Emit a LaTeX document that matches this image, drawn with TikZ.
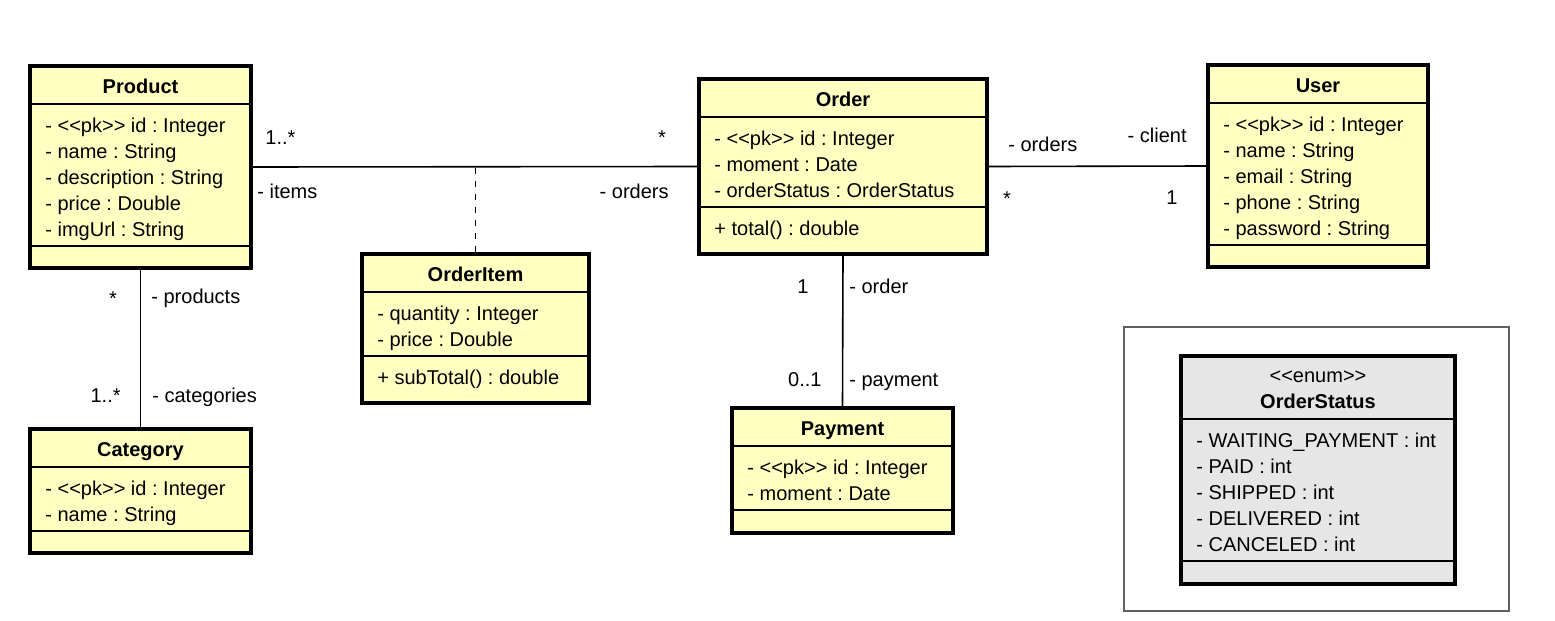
\documentclass[tikz,border=0pt]{standalone}
\usepackage{fontspec}
\newfontfamily\umlfont{Liberation Sans}
\usetikzlibrary{calc}
\definecolor{ClassClr}{RGB}{255,255,194}
\definecolor{EnumClr}{RGB}{230,230,230}
\definecolor{FrameClr}{RGB}{95,95,95}
\frenchspacing

% [title band]{name}{x}{y}{width}{height}{title}{attributes}{method}
\newcommand{\umlclass}[9][40]{%
  \node[umlbox, minimum width=#5*0.5pt, minimum height=#6*0.5pt] (#2) at (#3,#4) {};
  \node[umltitle] (#2-title) at ($(#2.north)+(0,#1-11)$) {#7};
  \draw[umlsep] ($(#2.north west)+(0,#1)$) -- ++(#5,0);
  \foreach \t [count=\i] in {#8}{%
    \node[umltext] (#2-attr\i) at ($(#2.north west)+(17,#1+2+26*\i)$) {\t};
    \xdef\umln{\i}}
  \draw[umlsep] ($(#2.north west)+(0,#1+12+26*\umln)$) -- ++(#5,0);
  \def\umlm{#9}%
  \ifx\umlm\empty\else
    \node[umltext] (#2-op) at ($(#2.north west)+(17,#1+40+26*\umln)$) {#9};
  \fi}

\begin{document}
\begin{tikzpicture}[x=0.5pt,y=-0.5pt,
  umlbox/.style={draw, line width=2pt, fill=ClassClr, inner sep=0, anchor=north west},
  umlsep/.style={line width=0.8pt},
  umltitle/.style={font=\umlfont\bfseries\fontsize{10}{12}\selectfont, anchor=base, inner sep=0},
  umltext/.style={font=\umlfont\fontsize{10}{12}\selectfont, anchor=base west, inner sep=0},
  umllabel/.style={font=\umlfont\fontsize{10}{12}\selectfont, inner sep=0},
  assoc/.style={line width=0.8pt}]
\useasboundingbox (0,0) rectangle (1555,621);

\umlclass{product}{28}{64}{221}{202}{Product}{- <<pk>> id : Integer, - name : String, - description : String, - price : Double, - imgUrl : String}{}
\umlclass{orderitem}{360}{252}{227}{149}{OrderItem}{- quantity : Integer, - price : Double}{+ subTotal() : double}
\umlclass{order}{697}{77}{288}{175}{Order}{- <<pk>> id : Integer, - moment : Date, - orderStatus : OrderStatus}{+ total() : double}
\umlclass{user}{1206}{63}{220}{202}{User}{- <<pk>> id : Integer, - name : String, - email : String, - phone : String, - password : String}{}
\umlclass{category}{28}{427}{221}{124}{Category}{- <<pk>> id : Integer, - name : String}{}
\umlclass{payment}{730}{406}{221}{125}{Payment}{- <<pk>> id : Integer, - moment : Date}{}

\draw[FrameClr, line width=0.6pt] (1124,327) rectangle (1509,611);
\begin{scope}[umlbox/.append style={fill=EnumClr}]
\umlclass[65]{orderstatus}{1179}{354}{274}{228}{OrderStatus}{- WAITING\_PAYMENT : int, - PAID : int, - SHIPPED : int, - DELIVERED : int, - CANCELED : int}{}
\end{scope}
\node[umltext, anchor=base] (orderstatus-stereo) at ($(orderstatus.north)+(0,28)$) {<<enum>>};

% associations
\draw[assoc] (product.east) -- (order.west);
\draw[assoc, dashed, dash pattern=on 3pt off 3.5pt] (orderitem.north) -- (orderitem.north |- product.east);
\draw[assoc] (order.east) -- (user.west);
\draw[assoc] (product.south) -- (category.north);
\draw[assoc] (order.south) -- (payment.north);

\node[umllabel, anchor=base west] (items-mult) at (265,144) {1..*};
\node[umllabel, anchor=base west] (items-role) at (257,198) {- items};
\node[umllabel, anchor=base] (orders-mult) at (662,144) {*};
\node[umllabel, anchor=base east] (orders-role) at (669,198) {- orders};
\node[umllabel, anchor=base west] (userorders-role) at (1008,151) {- orders};
\node[umllabel, anchor=base] (userorders-mult) at (1007,205) {*};
\node[umllabel, anchor=base east] (client-role) at (1187,142) {- client};
\node[umllabel, anchor=base east] (client-mult) at (1178,204) {1};
\node[umllabel, anchor=base] (products-mult) at (113,305) {*};
\node[umllabel, anchor=base west] (products-role) at (151,303) {- products};
\node[umllabel, anchor=base east] (categories-mult) at (121,402) {1..*};
\node[umllabel, anchor=base west] (categories-role) at (152,402) {- categories};
\node[umllabel, anchor=base] (order-mult) at (803,293) {1};
\node[umllabel, anchor=base west] (order-role) at (849,293) {- order};
\node[umllabel, anchor=base east] (payment-mult) at (822,386) {0..1};
\node[umllabel, anchor=base west] (payment-role) at (849,386) {- payment};
\end{tikzpicture}
\end{document}
